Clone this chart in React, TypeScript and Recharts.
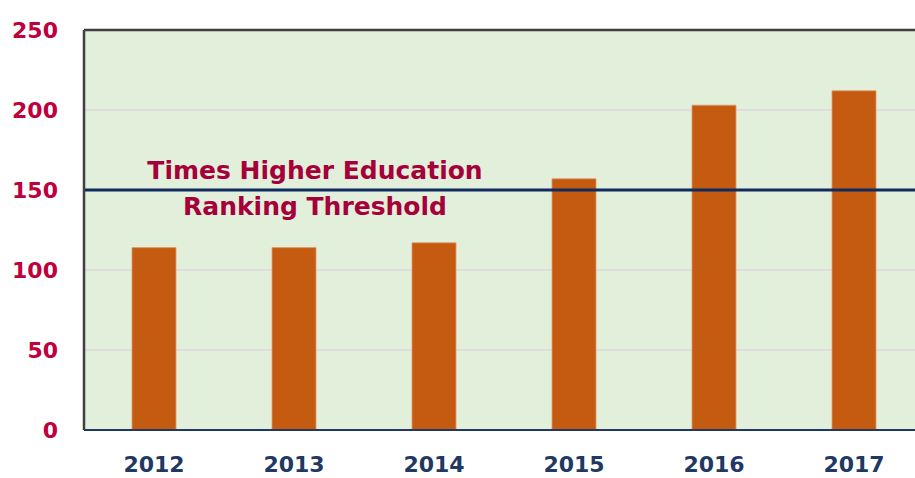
import * as React from 'react';
import {
  BarChart,
  Bar,
  XAxis,
  YAxis,
  CartesianGrid,
  ReferenceLine
} from 'recharts';

// values
const years = ['2012', '2013', '2014', '2015', '2016', '2017'];
const counts = [114, 114, 117, 157, 203, 212];
const yTicks = [0, 50, 100, 150, 200, 250];
const threshold = 150;
const thresholdLines = ['Times Higher Education', 'Ranking Threshold'];

const data = years.map((year, i) => ({ year, count: counts[i] }));

const FONT = '"DejaVu Sans", sans-serif';

const ThresholdLabel = (props: any) => {
  const { viewBox } = props;
  if (!viewBox) return null;
  const cx = viewBox.x + 231;
  return (
    <g>
      <text
        x={cx}
        y={viewBox.y - 11}
        textAnchor="middle"
        fontFamily={FONT}
        fontWeight={700}
        fontSize={25}
        fill="#a5003a"
      >
        {thresholdLines[0]}
      </text>
      <text
        x={cx}
        y={viewBox.y + 25}
        textAnchor="middle"
        fontFamily={FONT}
        fontWeight={700}
        fontSize={25}
        fill="#a5003a"
      >
        {thresholdLines[1]}
      </text>
    </g>
  );
};

export default function App() {
  return (
    <div
      style={{
        position: 'fixed',
        top: 0,
        left: 0,
        width: 915,
        height: 478,
        overflow: 'hidden',
        background: '#fff'
      }}
    >
      <BarChart
        width={940}
        height={478}
        data={data}
        margin={{ top: 30, right: 16, bottom: 0, left: 0 }}
        barCategoryGap={0}
      >
        <CartesianGrid
          vertical={false}
          stroke="#dcd6dc"
          strokeWidth={1.5}
          fill="#e2efda"
        />
        <XAxis
          dataKey="year"
          height={48}
          tickLine={false}
          tickMargin={20}
          axisLine={{ stroke: '#1f3864', strokeWidth: 2 }}
          tick={{ fill: '#1f3864', fontFamily: FONT, fontWeight: 700, fontSize: 22 }}
        />
        <YAxis
          width={84}
          domain={[0, 250]}
          ticks={yTicks}
          tickLine={false}
          tickMargin={20}
          interval={0}
          axisLine={{ stroke: '#404040', strokeWidth: 2.5 }}
          tick={{ fill: '#c0003c', fontFamily: FONT, fontWeight: 700, fontSize: 22 }}
        />
        <ReferenceLine y={250} stroke="#404040" strokeWidth={2.5} />
        <Bar
          dataKey="count"
          fill="#c55a11"
          stroke="#e09a6a"
          strokeWidth={0.8}
          barSize={44}
          isAnimationActive={false}
        />
        <ReferenceLine
          y={threshold}
          stroke="#0f2a5e"
          strokeWidth={3}
          label={<ThresholdLabel />}
        />
      </BarChart>
    </div>
  );
}
